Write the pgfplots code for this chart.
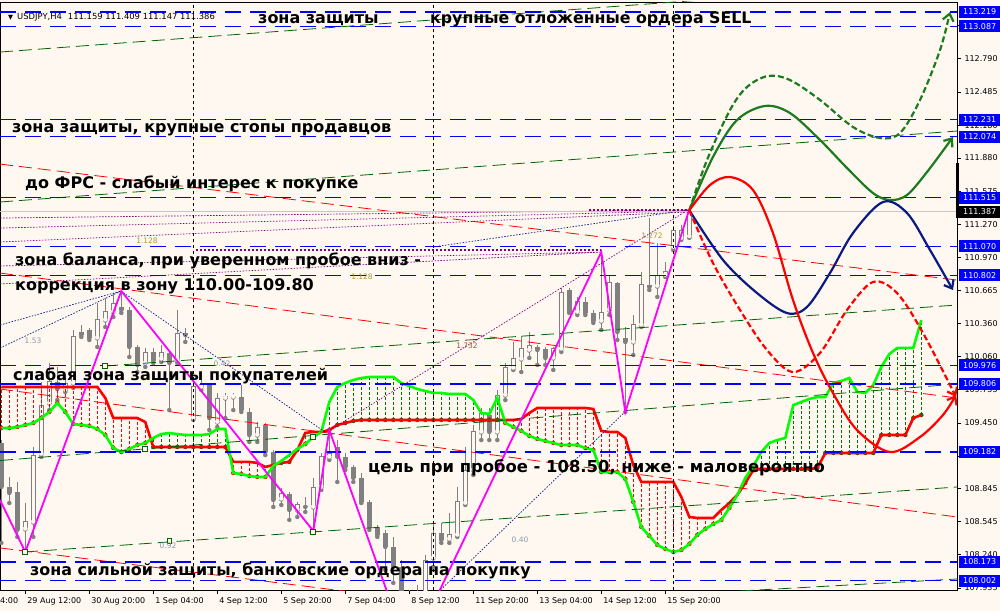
\documentclass[border=0pt]{standalone}
\usepackage{pgfplots}
\pgfplotsset{compat=1.18}
\usepackage{pgfplotstable}
\usepackage{fontspec}
\setmainfont{DejaVu Sans}
\usetikzlibrary{arrows.meta}
\definecolor{bg}{HTML}{FEF8F1}
\definecolor{cgray}{HTML}{808080}
\definecolor{lvlblue}{HTML}{0000FF}
\definecolor{dgreen}{HTML}{006400}
\definecolor{hgreen}{HTML}{007000}
\definecolor{fgreen}{HTML}{1E7A1E}
\definecolor{navy}{HTML}{0A1A80}
\definecolor{mag}{HTML}{FF00FF}
\definecolor{purp}{HTML}{800080}
\definecolor{limeg}{HTML}{00FF00}
\definecolor{ired}{HTML}{FF0000}
\definecolor{fibgray}{HTML}{8C9CB0}
\definecolor{fibolive}{HTML}{A0A030}
\definecolor{fibbrown}{HTML}{9A5A3A}

\pgfplotstableread{
k o h l c
0 109.265 109.292 108.348 108.861
1 108.861 108.953 108.714 108.806
2 108.815 108.907 108.403 108.467
3 108.476 108.714 108.265 108.540
4 108.540 109.228 108.403 109.154
5 109.164 109.825 109.137 109.613
6 109.631 109.999 109.567 109.825
7 109.825 109.962 109.659 109.760
8 109.751 109.870 109.733 109.815
9 109.815 110.302 109.770 110.238
10 110.283 110.348 110.238 110.256
11 110.302 110.320 110.210 110.229
12 110.229 110.549 110.146 110.394
13 110.394 110.595 110.329 110.467
14 110.467 110.641 110.421 110.549
15 110.513 110.660 110.458 110.485
16 110.485 110.513 110.054 110.146
17 110.146 110.164 109.916 109.981
18 109.999 110.137 109.962 110.091
19 110.100 110.137 109.999 110.018
20 110.036 110.164 110.008 110.091
21 110.091 110.118 109.567 109.999
22 110.027 110.485 109.999 110.274
23 110.274 110.320 110.192 110.256
24 109.494 109.843 109.476 109.779
25 109.779 109.843 109.751 109.806
26 109.797 109.815 109.384 109.494
27 109.457 109.723 109.411 109.677
28 109.677 109.723 109.494 109.687
29 109.687 109.723 109.567 109.696
30 109.687 109.797 109.549 109.567
31 109.549 109.586 109.274 109.338
32 109.338 109.457 109.274 109.411
33 109.430 109.448 109.154 109.182
34 109.182 109.200 108.678 108.742
35 108.751 108.852 108.696 108.797
36 108.797 108.815 108.559 108.650
37 108.650 108.724 108.586 108.696
38 108.687 108.770 108.632 108.678
39 108.678 108.944 108.458 108.861
40 108.861 109.173 108.834 109.137
41 109.137 109.384 109.109 109.173
42 109.228 109.292 108.907 109.137
43 109.137 109.173 109.017 109.044
44 109.044 109.063 108.907 108.944
45 108.944 108.990 108.714 108.724
46 108.724 108.742 108.467 108.494
47 108.494 108.513 108.403 108.421
48 108.439 108.467 108.100 108.311
49 108.311 108.403 107.981 108.128
50 108.128 108.191 107.732 107.871
51 107.871 107.916 107.329 107.549
52 107.549 107.962 107.411 107.778
53 107.778 108.237 107.686 108.191
54 108.210 108.531 108.128 108.439
55 108.439 108.531 108.348 108.375
56 108.384 108.623 108.348 108.421
57 108.421 108.861 108.403 108.724
58 108.714 109.228 108.696 109.017
59 109.017 109.430 108.971 109.366
60 109.366 109.586 109.292 109.540
61 109.521 109.586 109.292 109.366
62 109.366 109.751 109.292 109.705
63 109.705 109.999 109.659 109.953
64 109.953 110.192 109.935 110.036
65 110.036 110.247 109.916 110.128
66 110.118 110.283 110.045 110.155
67 110.146 110.164 109.981 110.118
68 110.128 110.146 109.981 110.045
69 110.045 110.146 109.935 110.128
70 110.128 110.687 110.100 110.650
71 110.669 110.687 110.458 110.467
72 110.467 110.605 110.439 110.559
73 110.559 110.605 110.439 110.458
74 110.458 110.485 110.366 110.384
75 110.384 111.017 110.302 110.458
76 110.485 110.806 110.439 110.733
77 110.733 110.742 110.210 110.283
78 110.229 110.329 109.549 110.192
79 110.192 110.439 110.072 110.348
80 110.348 110.834 110.329 110.715
81 110.715 111.329 110.669 110.696
82 110.705 111.100 110.605 110.806
83 110.806 110.926 110.788 110.834
84 111.063 111.256 111.035 111.219
85 111.145 111.265 111.127 111.219
86 111.159 111.409 111.147 111.386
}\candles

\pgfplotstableread{
k sa sb
0 109.779 109.402
1 109.779 109.402
2 109.779 109.412
3 109.779 109.430
4 109.779 109.448
5 109.779 109.494
6 109.779 109.549
7 109.779 109.632
8 109.779 109.549
9 109.779 109.439
10 109.779 109.430
11 109.779 109.421
12 109.779 109.393
13 109.678 109.338
14 109.494 109.219
15 109.494 109.182
16 109.494 109.210
17 109.494 109.246
18 109.457 109.265
19 109.228 109.311
20 109.228 109.347
21 109.228 109.356
22 109.228 109.347
23 109.228 109.338
24 109.228 109.338
25 109.228 109.338
26 109.228 109.347
27 109.228 109.393
28 109.228 109.393
29 109.091 108.990
30 109.091 108.980
31 109.091 108.962
32 109.082 108.953
33 109.045 108.953
34 109.063 109.054
35 109.082 109.100
36 109.091 109.155
37 109.200 109.210
38 109.357 109.255
39 109.366 109.320
40 109.366 109.366
41 109.384 109.641
42 109.430 109.779
43 109.448 109.815
44 109.467 109.843
45 109.476 109.861
46 109.476 109.870
47 109.476 109.870
48 109.476 109.870
49 109.476 109.870
50 109.476 109.815
51 109.476 109.788
52 109.476 109.760
53 109.476 109.742
54 109.476 109.724
55 109.476 109.724
56 109.476 109.714
57 109.476 109.714
58 109.476 109.714
59 109.476 109.659
60 109.476 109.540
61 109.476 109.531
62 109.476 109.678
63 109.476 109.448
64 109.476 109.412
65 109.485 109.375
66 109.540 109.329
67 109.586 109.302
68 109.586 109.283
69 109.586 109.265
70 109.586 109.246
71 109.586 109.246
72 109.586 109.246
73 109.586 109.219
74 109.577 109.201
75 109.375 108.999
76 109.366 108.999
77 109.366 108.999
78 109.311 108.935
79 109.063 108.724
80 108.907 108.494
81 108.907 108.412
82 108.907 108.329
83 108.907 108.292
84 108.907 108.265
85 108.770 108.283
86 108.586 108.338
87 108.577 108.421
88 108.577 108.476
89 108.577 108.522
90 108.650 108.558
91 108.714 108.669
92 108.788 108.788
93 108.898 108.944
94 109.017 109.054
95 109.026 109.182
96 109.026 109.265
97 109.026 109.292
98 109.026 109.311
99 109.026 109.613
100 109.026 109.641
101 109.026 109.669
102 109.035 109.687
103 109.173 109.687
104 109.173 109.815
105 109.173 109.834
106 109.173 109.861
107 109.173 109.733
108 109.173 109.724
109 109.173 109.797
110 109.338 109.962
111 109.338 110.081
112 109.338 110.137
113 109.338 110.137
114 109.494 110.137
115 109.522 110.393
}\ichi

\newcommand{\ann}[4][16]{\node[anchor=base west, inner sep=0pt, font=\bfseries\fontsize{#1}{20}\selectfont] at (#2pt,#3pt) {#4};}
\newcommand{\fib}[4]{\node[anchor=center, inner sep=0pt, text=#3, font=\fontsize{7.5}{8}\selectfont] at (#1pt,#2pt) {#4};}

\begin{document}
\begin{tikzpicture}
\fill[bg] (0pt,0pt) rectangle (1000pt,611pt);
\path[use as bounding box] (0pt,0pt) rectangle (1000pt,611pt);
\begin{axis}[
  at={(0pt,21pt)}, anchor=south west,
  scale only axis, width=957pt, height=588pt,
  xmin=-0.1625, xmax=119.4625, ymin=107.916, ymax=113.311,
  clip mode=individual,
  axis line style={black, line width=0.8pt},
  scaled ticks=false,
  tick align=outside, major tick length=4pt,
  tick style={black, line width=0.6pt},
  xtick pos=left, ytick pos=right, yticklabel pos=right,
  ytick={107.935,108.240,108.545,108.845,109.145,109.450,109.755,110.060,110.360,110.665,110.970,111.270,111.575,111.880,112.180,112.485,112.790,113.095},
  yticklabels={107.935,108.240,108.545,108.845,{},109.450,109.755,110.060,110.360,110.665,110.970,111.270,111.575,111.880,112.180,112.485,112.790,{}},
  yticklabel style={anchor=west},
  tick label style={font=\fontsize{8}{9}\selectfont},
  xtick={3,11,19,27,35,43,51,59,67,75,83},
  xticklabels={29 Aug 12:00,30 Aug 20:00,1 Sep 04:00,4 Sep 12:00,5 Sep 20:00,7 Sep 04:00,8 Sep 12:00,11 Sep 20:00,13 Sep 04:00,14 Sep 12:00,15 Sep 20:00},
  xticklabel style={anchor=north west, xshift=-1.5pt},
]
% candles: wicks
\addplot[cgray, forget plot, only marks, mark=none, error bars/.cd, y dir=plus, y explicit, error mark=none,
  error bar style={draw=cgray, line width=1pt}]
  table[x=k, y=l, y error plus expr=\thisrow{h}-\thisrow{l}] {\candles};
% bear bodies
\addplot[cgray, forget plot, only marks, mark=none,
  restrict expr to domain={\thisrow{o}-\thisrow{c}}{0.000001:100},
  error bars/.cd, y dir=plus, y explicit, error mark=none,
  error bar style={draw=cgray, line width=5.5pt, line cap=butt}]
  table[x=k, y=c, y error plus expr={max(\thisrow{o}-\thisrow{c},0.012)}] {\candles};
% bull bodies outer
\addplot[cgray, forget plot, only marks, mark=none,
  restrict expr to domain={\thisrow{c}-\thisrow{o}}{0:100},
  error bars/.cd, y dir=plus, y explicit, error mark=none,
  error bar style={draw=cgray, line width=5.5pt, line cap=butt}]
  table[x=k, y expr=\thisrow{o}-0.0046, y error plus expr={\thisrow{c}-\thisrow{o}+0.0092}] {\candles};
% bull bodies inner
\addplot[bg, forget plot, only marks, mark=none,
  restrict expr to domain={\thisrow{c}-\thisrow{o}}{0:100},
  error bars/.cd, y dir=plus, y explicit, error mark=none,
  error bar style={draw=bg, line width=3.5pt, line cap=butt}]
  table[x=k, y expr=\thisrow{o}+0.0046, y error plus expr={max(\thisrow{c}-\thisrow{o}-0.0092,0)}] {\candles};

% ichimoku hatching
\addplot[ired, forget plot, only marks, mark=none,
  restrict expr to domain={\thisrow{sa}-\thisrow{sb}}{0.000001:100},
  error bars/.cd, y dir=plus, y explicit, error mark=none,
  error bar style={draw=ired, line width=0.7pt, dash pattern=on 3pt off 2pt}]
  table[x=k, y=sb, y error plus expr=\thisrow{sa}-\thisrow{sb}] {\ichi};
\addplot[hgreen, forget plot, only marks, mark=none,
  restrict expr to domain={\thisrow{sb}-\thisrow{sa}}{0.000001:100},
  error bars/.cd, y dir=plus, y explicit, error mark=none,
  error bar style={draw=hgreen, line width=0.7pt, dash pattern=on 3pt off 2pt}]
  table[x=k, y=sa, y error plus expr=\thisrow{sb}-\thisrow{sa}] {\ichi};
\addplot[ired, line width=2.6pt] table[x=k, y=sa] {\ichi};
\addplot[limeg, line width=2.6pt] table[x=k, y=sb] {\ichi};

% thin dark green trend lines (dashed)
\addplot[dgreen, line width=0.8pt, dash pattern=on 13pt off 6pt, unbounded coords=jump] coordinates {
 (12.96,109.971) (119.46,110.531) (nan,nan)
 (-0.16,109.104) (119.46,109.806) (nan,nan)
 (2.96,108.265) (119.46,108.861) (nan,nan)
 (47.34,107.724) (119.46,108.017) (nan,nan)
 (-0.16,111.476) (119.46,112.127) (nan,nan)
 (-0.16,112.852) (119.46,113.503)};
% thin red trend lines (dashed)
\addplot[ired, line width=0.8pt, dash pattern=on 13pt off 6pt, unbounded coords=jump] coordinates {
 (-0.16,110.824) (119.46,109.678) (nan,nan)
 (-0.16,109.760) (119.46,108.586) (nan,nan)
 (-0.16,108.302) (119.46,107.201) (nan,nan)
 (-0.16,111.824) (119.46,110.760)};
% navy dotted
\addplot[navy, line width=0.7pt, dash pattern=on 1.5pt off 1.5pt, unbounded coords=jump] coordinates {
 (14.96,110.659) (40.46,109.366) (nan,nan)
 (-0.16,110.347) (14.96,110.659) (nan,nan)
 (-0.16,110.137) (14.96,110.659) (nan,nan)
 (53.59,107.824) (78.21,109.568) (nan,nan)
 (53.96,111.063) (85.84,111.403)};
% purple dotted
\addplot[purp, line width=0.7pt, dash pattern=on 1.5pt off 1.5pt, unbounded coords=jump] coordinates {
 (41.09,109.384) (85.84,111.403) (nan,nan)
 (-0.16,111.329) (85.84,111.403) (nan,nan)
 (-0.16,111.237) (85.84,111.394) (nan,nan)
 (-0.16,111.109) (85.84,111.384) (nan,nan)
 (-0.16,110.889) (75,111.017) (nan,nan)
 (-0.16,110.724) (75,111.017)};
\addplot[purp, line width=1.6pt, dash pattern=on 2pt off 2pt, unbounded coords=jump] coordinates {
 (24.3,111.035) (75,111.035) (nan,nan)
 (73.5,111.403) (86,111.403)};

% weekly separators
\addplot[black, line width=0.8pt, dash pattern=on 3pt off 3pt, unbounded coords=jump] coordinates {
 (24,107.916) (24,113.311) (nan,nan) (54,107.916) (54,113.311) (nan,nan) (84,107.916) (84,113.311)};
% current price line
\addplot[black!22, line width=0.8pt] coordinates {(-0.1625,111.387) (119.4625,111.387)};
% blue levels
\addplot[lvlblue, line width=1.1pt, dash pattern=on 16pt off 9pt, unbounded coords=jump] coordinates {
 (-0.1625,113.219) (119.4625,113.219) (nan,nan)
 (-0.1625,113.087) (119.4625,113.087) (nan,nan)
 (-0.1625,112.231) (119.4625,112.231) (nan,nan)
 (-0.1625,112.074) (119.4625,112.074) (nan,nan)
 (-0.1625,111.515) (119.4625,111.515) (nan,nan)
 (-0.1625,111.070) (119.4625,111.070) (nan,nan)
 (-0.1625,110.802) (119.4625,110.802) (nan,nan)
 (-0.1625,109.976) (119.4625,109.976) (nan,nan)
 (-0.1625,109.806) (119.4625,109.806) (nan,nan)
 (-0.1625,109.182) (119.4625,109.182) (nan,nan)
 (-0.1625,108.173) (119.4625,108.173) (nan,nan)
 (-0.1625,108.002) (119.4625,108.002)};

% zigzag
\addplot[mag, line width=1.8pt] coordinates {
 (-0.16,108.742) (3,108.265) (15,110.659) (39,108.458) (41,109.384) (51,107.329) (75,111.017) (78,109.549) (86,111.409)};
% anchor squares
\addplot[only marks, mark=square*, mark size=2.3pt, dgreen, mark options={fill=bg, line width=0.7pt}] coordinates {
 (12.96,109.971) (17.96,109.210) (2.96,108.265) (20.99,108.366) (38.96,109.320) (38.96,108.448)};

% forecast curves
\addplot[fgreen, line width=2.2pt, smooth, tension=0.55, -{Straight Barb[length=7pt,width=11pt]}] coordinates {
 (86,111.40) (88.96,111.889) (91.96,112.228) (95.46,112.357) (98.59,112.292) (102.34,112.045) (105.71,111.788) (108.96,111.558) (111.09,111.494) (113.21,111.540) (115.71,111.751) (118.96,112.072)};
\addplot[fgreen, line width=2.2pt, dash pattern=on 6pt off 3pt, smooth, tension=0.55, -{Straight Barb[length=7pt,width=11pt]}] coordinates {
 (86,111.40) (88.21,111.861) (91.09,112.320) (93.21,112.531) (95.84,112.632) (98.59,112.595) (102.34,112.412) (106.46,112.164) (109.84,112.063) (112.34,112.109) (114.84,112.412) (117.34,112.870) (118.59,113.219)};
\addplot[navy, line width=2.2pt, smooth, tension=0.55, -{Straight Barb[length=7pt,width=11pt]}] coordinates {
 (86,111.40) (90.21,110.944) (94.46,110.641) (98.21,110.457) (100.71,110.513) (103.59,110.825) (106.46,111.191) (110.21,111.476) (113.21,111.375) (116.09,111.035) (118.96,110.668)};
\addplot[ired, line width=2.2pt, smooth, tension=0.55, -{Straight Barb[length=7pt,width=11pt]}] coordinates {
 (86,111.40) (88.59,111.632) (91.09,111.705) (93.96,111.586) (96.46,111.191) (98.96,110.577) (101.46,110.091) (103.96,109.723) (106.96,109.384) (111.09,109.182) (114.84,109.320) (117.71,109.522) (119.34,109.705)};
\addplot[ired, line width=2.2pt, dash pattern=on 6pt off 3pt, smooth, tension=0.55, -{Straight Barb[length=7pt,width=11pt]}] coordinates {
 (86,111.40) (88.96,110.916) (92.34,110.485) (95.71,110.118) (98.96,109.916) (102.34,110.091) (105.71,110.485) (108.96,110.742) (111.96,110.641) (115.21,110.274) (119.34,109.687)};

% right axis boxes
\pgfplotsinvokeforeach{113.219,113.087,112.231,112.074,111.515,111.070,110.802,109.976,109.806,109.182,108.173,108.002}{
  \node[fill=lvlblue, text=white, anchor=west, inner sep=0pt, minimum height=12pt, minimum width=41pt, font=\fontsize{8}{9}\selectfont, xshift=2pt] at (axis cs:119.4625,#1) {#1};
}
\node[fill=black, text=white, anchor=west, inner sep=0pt, minimum height=12pt, minimum width=41pt, font=\fontsize{8}{9}\selectfont, xshift=2pt] at (axis cs:119.4625,111.387) {111.387};
\draw[black, line width=3pt] (axis cs:119.4625,111.834) -- (axis cs:119.4625,111.329);
\end{axis}

% header and partial first date label
\node[anchor=base west, inner sep=0pt, font=\fontsize{8.4}{10}\selectfont] at (8pt,591.5pt) {{\fontsize{6.5}{8}\selectfont ▼}\hspace{4pt}USDJPY,H4\hspace{6pt}111.159 111.409 111.147 111.386};
\node[anchor=base west, inner sep=0pt, font=\fontsize{8}{9}\selectfont] at (0pt,7.5pt) {4:00};

% fib labels
\fib{147}{370}{fibolive}{1.128}
\fib{362}{334}{fibolive}{1.128}
\fib{33}{270}{fibgray}{1.53}
\fib{168}{65}{fibgray}{0.92}
\fib{222}{247}{fibgray}{0.42}
\fib{467}{265}{fibbrown}{1.732}
\fib{652}{375}{fibolive}{1.272}
\fib{520}{71}{fibgray}{0.40}

% annotations
\ann{258}{587}{зона защиты}
\ann[15.8]{430}{587}{крупные отложенные ордера SELL}
\ann[16]{12}{478}{зона защиты, крупные стопы продавцов}
\ann{25}{422}{до ФРС - слабый интерес к покупке}
\ann{15}{345}{зона баланса, при уверенном пробое вниз -}
\ann{15}{320}{коррекция в зону 110.00-109.80}
\ann{13}{231}{слабая зона защиты покупателей}
\ann[16.4]{368}{139}{цель при пробое - 108.50, ниже - маловероятно}
\ann[15.9]{30}{36}{зона сильной защиты, банковские ордера на покупку}
\end{tikzpicture}
\end{document}
